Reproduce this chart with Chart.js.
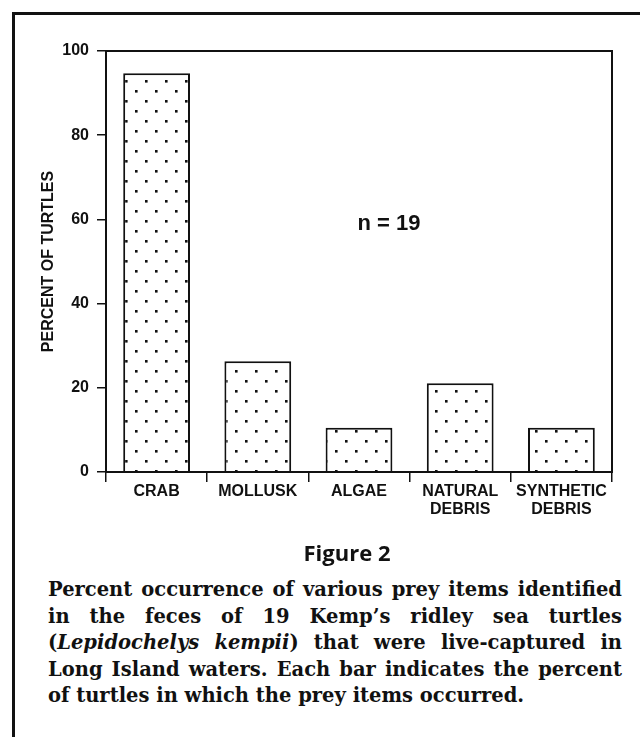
<!DOCTYPE html>
<html>
<head>
<meta charset="utf-8">
<script src="https://cdn.jsdelivr.net/npm/chart.js@4.4.1/dist/chart.umd.min.js"></script>
<style>
  body { margin: 0; background: #fff; width: 640px; height: 737px; overflow: hidden; position: relative; }
  #frameTop { position: absolute; left: 12px; top: 12px; width: 628px; height: 3px; background: #111; }
  #frameLeft { position: absolute; left: 12px; top: 12px; width: 3px; height: 725px; background: #111; }
  #chart { position: absolute; left: 0; top: 0; }
  #figTitle { position: absolute; left: 247px; top: 541px; width: 200px; text-align: center;
    font: bold 22px/22px "Open Sans", sans-serif; color: #111; }
  #caption { position: absolute; left: 48px; top: 577px; width: 574px; color: #111;
    font: bold 19.5px/26.6px "DejaVu Serif", serif; }
  #caption div { text-align: justify; text-align-last: justify; white-space: nowrap; }
  #caption div.last { text-align-last: left; }
</style>
</head>
<body>
<div id="frameTop"></div>
<div id="frameLeft"></div>
<canvas id="chart" width="640" height="540"></canvas>
<div id="figTitle">Figure 2</div>
<div id="caption">
  <div>Percent occurrence of various prey items identified</div>
  <div>in the feces of 19 Kemp’s ridley sea turtles</div>
  <div>(<i>Lepidochelys kempii</i>) that were live-captured in</div>
  <div>Long Island waters. Each bar indicates the percent</div>
  <div class="last">of turtles in which the prey items occurred.</div>
</div>
<script>
// valeurs (n = 19 tortues)
const categories = [['CRAB'], ['MOLLUSK'], ['ALGAE'], ['NATURAL', 'DEBRIS'], ['SYNTHETIC', 'DEBRIS']];
const percentTurtles = [94.7, 26.3, 10.5, 21.1, 10.5];
const yTicks = [0, 20, 40, 60, 80, 100];
const sampleLabel = 'n = 19';

const ink = '#111';
const sans = '"Liberation Sans", Arial, sans-serif';

// trame de points en quinconce
function dotPattern() {
    const tile = document.createElement('canvas');
    tile.width = 20;
    tile.height = 20;
    const g = tile.getContext('2d');
    g.fillStyle = '#fff';
    g.fillRect(0, 0, 20, 20);
    g.fillStyle = ink;
    g.fillRect(5, 0, 2.6, 2.6);
    g.fillRect(15, 10, 2.6, 2.6);
    return g.createPattern(tile, 'repeat');
}

// cadre complet du graphique + mention de l'effectif
const plotFrame = {
    id: 'plotFrame',
    afterDraw(chart) {
        const { ctx, chartArea: a, scales } = chart;
        ctx.save();
        ctx.strokeStyle = ink;
        ctx.lineWidth = 2;
        ctx.strokeRect(a.left, a.top, a.right - a.left, a.bottom - a.top);
        ctx.font = `bold 22px ${sans}`;
        ctx.fillStyle = ink;
        ctx.textAlign = 'center';
        ctx.textBaseline = 'middle';
        ctx.fillText(sampleLabel, scales.x.getPixelForValue(2) + 30, scales.y.getPixelForValue(59));
        ctx.restore();
    }
};

const ctx = document.getElementById('chart').getContext('2d');
const pattern = dotPattern();

new Chart(ctx, {
    type: 'bar',
    data: {
        labels: categories,
        datasets: [{
            data: percentTurtles,
            backgroundColor: pattern,
            borderColor: ink,
            borderWidth: 2,
            barPercentage: 0.66,
            categoryPercentage: 1
        }]
    },
    options: {
        responsive: false,
        animation: false,
        devicePixelRatio: 1,
        layout: { padding: { top: 51, right: 28, left: 0, bottom: 0 } },
        plugins: { legend: { display: false }, tooltip: { enabled: false } },
        scales: {
            x: {
                offset: true,
                afterFit(s) { s.height = 540 - 472; },
                grid: { offset: true, drawOnChartArea: false, tickLength: 10, color: ink, lineWidth: 1.5 },
                border: { display: false },
                ticks: {
                    color: ink, padding: 1, maxRotation: 0, autoSkip: false,
                    font: { family: sans, size: 16, weight: 'bold', lineHeight: 1.1 }
                }
            },
            y: {
                min: 0,
                max: 100,
                afterFit(s) { s.width = 106; },
                afterBuildTicks(s) { s.ticks = yTicks.map(v => ({ value: v })); },
                grid: { drawOnChartArea: false, tickLength: 9, color: ink, lineWidth: 1.5 },
                border: { display: false },
                ticks: { color: ink, padding: 8, font: { family: sans, size: 16, weight: 'bold' } },
                title: {
                    display: true,
                    text: 'PERCENT OF TURTLES',
                    color: ink,
                    padding: { top: 39, bottom: 0 },
                    font: { family: sans, size: 16, weight: 'bold' }
                }
            }
        }
    },
    plugins: [plotFrame]
});
</script>
</body>
</html>
